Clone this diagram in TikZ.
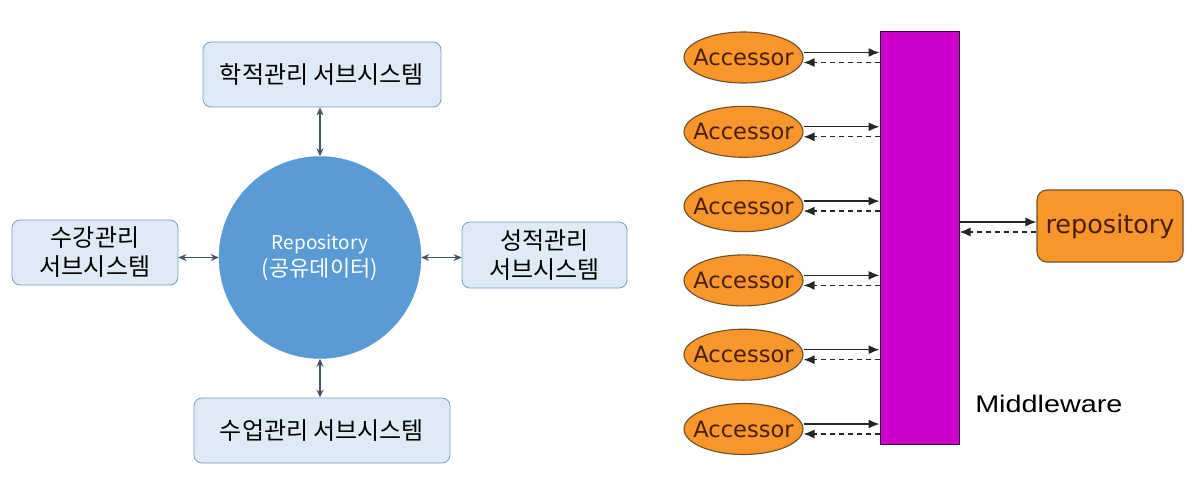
\documentclass[tikz,border=0pt]{standalone}
\usepackage{fontspec}
\usetikzlibrary{shapes.geometric,arrows.meta,calc}
\newfontfamily\krfont{Noto Sans CJK KR}
\newfontfamily\dvfont{DejaVu Sans}
\newfontfamily\lsfont{Liberation Sans}
\definecolor{boxfill}{HTML}{DEEBF7}
\definecolor{boxline}{HTML}{7A9CC4}
\definecolor{circfill}{HTML}{5B9BD5}
\definecolor{arrcol}{HTML}{44546A}
\definecolor{accfill}{HTML}{F7962A}
\definecolor{accline}{HTML}{6E4F2A}
\definecolor{acctext}{HTML}{4A1E08}
\definecolor{mwfill}{HTML}{CC00CC}
\definecolor{mwline}{HTML}{3C0040}
\tikzset{
  lbox/.style={draw=boxline, fill=boxfill, rounded corners=8pt, line width=0.8pt,
    align=center, inner sep=0pt, font=\krfont\fontsize{24}{29}\selectfont},
  circnode/.style={circle, fill=circfill, draw=circfill, minimum size=202pt, inner sep=0pt,
    align=center, text=white, font=\krfont\fontsize{19}{27}\selectfont},
  darr/.style={{Stealth[length=8pt,width=7pt]}-{Stealth[length=8pt,width=7pt]}, draw=arrcol, line width=1.8pt},
  acc/.style={ellipse, draw=accline, fill=accfill, line width=1.1pt, minimum width=119pt,
    minimum height=51pt, inner sep=0pt, text=acctext, font=\dvfont\fontsize{22.5}{26}\selectfont},
  repo/.style={draw=accline, fill=accfill, line width=1.1pt, rounded corners=10pt,
    minimum width=146pt, minimum height=72pt, inner sep=0pt, text=acctext,
    font=\dvfont\fontsize{25.5}{28}\selectfont},
  mwbox/.style={draw=mwline, fill=mwfill, line width=1pt, minimum width=79pt,
    minimum height=413pt, inner sep=0pt},
  solidarr/.style={-{Latex[length=11pt,width=9pt]}, draw=black!85, line width=1.3pt},
  dasharr/.style={-{Latex[length=11pt,width=9pt]}, draw=black!85, line width=1.3pt, dash pattern=on 5pt off 4pt},
}
\begin{document}
\begin{tikzpicture}[x=1pt,y=-1pt]
\useasboundingbox (0,0) rectangle (1197,485);
% left diagram
\node[lbox, minimum width=238pt, minimum height=65pt] (top) at (322,74.5) {학적관리 서브시스템};
\node[lbox, minimum width=166pt, minimum height=65pt] (lft) at (95,252.5) {수강관리\\서브시스템};
\node[lbox, minimum width=165pt, minimum height=66pt] (rgt) at (544.5,255) {성적관리\\서브시스템};
\node[lbox, minimum width=256pt, minimum height=65pt] (bot) at (322,430.5) {수업관리 서브시스템};
\node[circnode] (circ) at (320,257.5) {Repository\\{\fontsize{22}{27}\selectfont(공유데이터)}};
\draw[darr] (circ.north) -- (circ.north |- top.south);
\draw[darr] (circ.west) -- (circ.west -| lft.east);
\draw[darr] (circ.east) -- (circ.east -| rgt.west);
\draw[darr] (circ.south) -- (circ.south |- bot.north);
% right diagram
\node[mwbox] (mw) at (919.5,237.5) {};
\foreach \i/\y in {1/57.5,2/131.8,3/206.1,4/280.4,5/354.7,6/429} {
  \node[acc] (a\i) at (743.5,\y) {\makebox[0pt]{Accessor}};
  \coordinate (s\i) at ($(a\i.east)+(0,-5)$);
  \coordinate (d\i) at ($(a\i.east)+(0,5)$);
  \draw[solidarr] (s\i) -- (s\i -| mw.west);
  \draw[dasharr] (d\i -| mw.west) -- (d\i);
}
\node[repo] (rep) at (1110,226) {repository};
\coordinate (rs) at ($(rep.west)+(0,-4)$);
\coordinate (rd) at ($(rep.west)+(0,6)$);
\draw[solidarr] (rs -| mw.east) -- (rs);
\draw[dasharr] (rd) -- (rd -| mw.east);
\node[anchor=base west, inner sep=0pt, font=\lsfont\fontsize{24}{28}\selectfont, xscale=1.2, transform shape] (mwl) at (975,412) {Middleware};
\end{tikzpicture}
\end{document}
